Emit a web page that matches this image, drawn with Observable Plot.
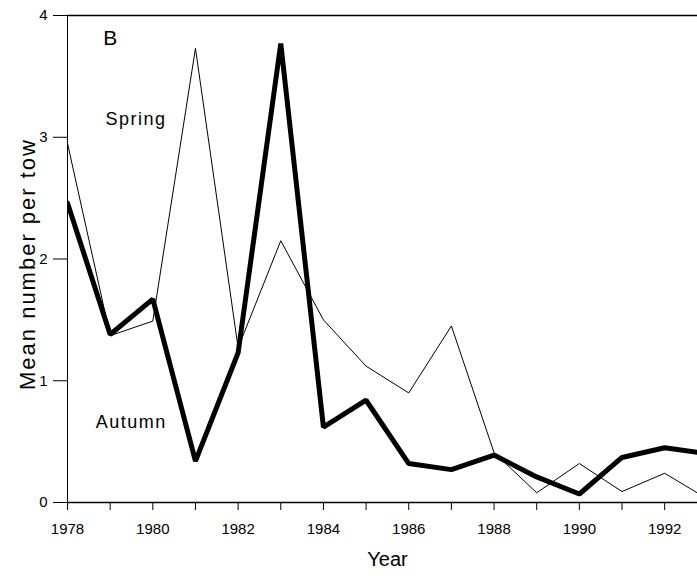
<!DOCTYPE html>
<html>
<head>
<meta charset="utf-8">
<script src="https://cdn.jsdelivr.net/npm/d3@7"></script>
<script src="https://cdn.jsdelivr.net/npm/@observablehq/plot@0.6"></script>
<style>
  html, body { margin: 0; padding: 0; background: #fff; }
  svg { display: block; }
</style>
</head>
<body>
<div id="chart"></div>
<script>
const years  = [1978, 1979, 1980, 1981, 1982, 1983, 1984, 1985, 1986, 1987, 1988, 1989, 1990, 1991, 1992, 1993];
const spring = [2.95, 1.37, 1.49, 3.73, 1.27, 2.15, 1.50, 1.12, 0.90, 1.45, 0.41, 0.08, 0.32, 0.09, 0.24, 0.03];
const autumn = [2.46, 1.38, 1.67, 0.34, 1.23, 3.77, 0.62, 0.84, 0.32, 0.27, 0.39, 0.21, 0.07, 0.37, 0.45, 0.40];
const yTicks = [0, 1, 2, 3, 4];

const springData = years.map((y, i) => ({year: y, value: spring[i]}));
const autumnData = years.map((y, i) => ({year: y, value: autumn[i]}));

const chart = Plot.plot({
  width: 697,
  height: 576,
  marginLeft: 67,
  marginRight: 0,
  marginTop: 15,
  marginBottom: 74,
  style: {fontFamily: "'Liberation Sans', Arial, sans-serif", color: "#000", background: "#fff"},
  x: {domain: [1978, 1992.77]},
  y: {domain: [0, 4]},
  marks: [
    Plot.axisX(years.filter(y => y <= 1992), {
      tickSize: 8, tickPadding: 13, fontSize: 15,
      tickFormat: d => d % 2 === 0 ? String(d) : "", label: null
    }),
    Plot.axisY(yTicks, {tickSize: 14, tickPadding: 6, fontSize: 15, label: null, tickFormat: d => String(d)}),
    Plot.ruleX([1978], {stroke: "#000", strokeWidth: 1}),
    Plot.ruleY([0], {stroke: "#000", strokeWidth: 1.5}),
    Plot.ruleY([4], {stroke: "#000", strokeWidth: 1.5}),
    Plot.line(springData, {x: "year", y: "value", stroke: "#000", strokeWidth: 1, clip: true}),
    Plot.line(autumnData, {x: "year", y: "value", stroke: "#000", strokeWidth: 5, strokeLinejoin: "miter", clip: true}),
    Plot.text(["B"], {x: 1978.84, y: 3.81, text: d => d, textAnchor: "start", fontSize: 21}),
    Plot.text(["Spring"], {x: 1978.89, y: 3.15, text: d => d, textAnchor: "start", fontSize: 18}),
    Plot.text(["Autumn"], {x: 1978.66, y: 0.66, text: d => d, textAnchor: "start", fontSize: 18}),
    Plot.text(["Mean number per tow"], {frameAnchor: "left", textAnchor: "middle", lineAnchor: "middle", text: d => d, rotate: -90, dx: -40, dy: 5, fontSize: 22}),
    Plot.text(["Year"], {frameAnchor: "bottom", textAnchor: "middle", text: d => d, dy: 63, dx: 5, fontSize: 20})
  ]
});
const spacing = {"Spring": "1.5px", "Autumn": "1.5px", "Mean number per tow": "2px"};
d3.select(chart).selectAll("text").each(function() {
  const t = this.textContent;
  if (spacing[t]) d3.select(this).style("letter-spacing", spacing[t]);
});
document.getElementById("chart").appendChild(chart);
</script>
</body>
</html>
